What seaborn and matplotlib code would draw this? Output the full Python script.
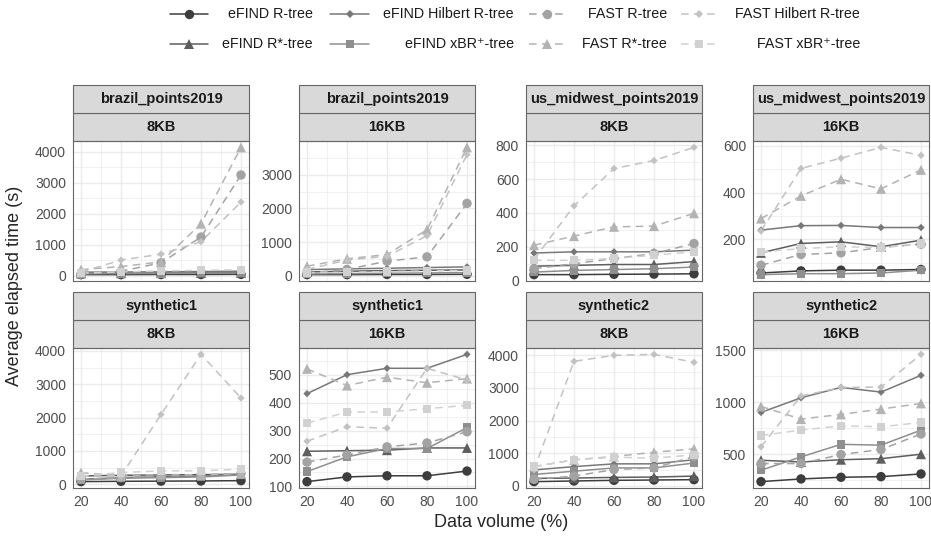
import pandas as pd
import seaborn as sns
import matplotlib.pyplot as plt
from matplotlib.lines import Line2D
from matplotlib.patches import Rectangle

# x axis: data volume (%)
volume = [20, 40, 60, 80, 100]

methods = ["eFIND R-tree", "eFIND R*-tree", "eFIND Hilbert R-tree", "eFIND xBR⁺-tree",
           "FAST R-tree", "FAST R*-tree", "FAST Hilbert R-tree", "FAST xBR⁺-tree"]

datasets = ["brazil_points2019", "brazil_points2019", "us_midwest_points2019", "us_midwest_points2019",
            "synthetic1", "synthetic1", "synthetic2", "synthetic2"]
page_sizes = ["8KB", "16KB", "8KB", "16KB", "8KB", "16KB", "8KB", "16KB"]

# average elapsed time (s), one row per method (same order as `methods`)
brazil_8kb = [
    [40, 40, 45, 45, 50],
    [80, 85, 90, 95, 100],
    [120, 125, 130, 140, 150],
    [70, 75, 80, 85, 90],
    [60, 150, 420, 1250, 3250],
    [200, 300, 450, 1680, 4140],
    [120, 510, 700, 1100, 2380],
    [90, 130, 160, 180, 200],
]
brazil_16kb = [
    [40, 40, 45, 45, 50],
    [120, 140, 160, 170, 180],
    [190, 210, 230, 250, 270],
    [60, 70, 80, 90, 100],
    [80, 195, 440, 567, 2150],
    [290, 508, 635, 1370, 3810],
    [195, 470, 586, 1193, 3597],
    [100, 110, 130, 150, 160],
]
midwest_8kb = [
    [35, 35, 37, 38, 40],
    [85, 90, 95, 95, 112],
    [163, 170, 170, 170, 180],
    [50, 60, 65, 70, 80],
    [70, 100, 130, 160, 219],
    [209, 263, 318, 322, 398],
    [125, 442, 663, 710, 788],
    [120, 120, 130, 150, 170],
]
midwest_16kb = [
    [57, 66, 69, 69, 72],
    [143, 183, 190, 169, 197],
    [240, 259, 260, 251, 251],
    [50, 54, 54, 57, 69],
    [90, 136, 143, 166, 180],
    [289, 386, 457, 416, 497],
    [236, 503, 547, 593, 559],
    [147, 161, 169, 166, 183],
]
synthetic1_8kb = [
    [80, 90, 95, 100, 110],
    [250, 270, 280, 290, 300],
    [150, 200, 230, 250, 300],
    [130, 180, 200, 220, 280],
    [150, 200, 250, 280, 330],
    [350, 250, 300, 280, 320],
    [250, 250, 2095, 3897, 2588],
    [250, 352, 403, 403, 453],
]
synthetic1_16kb = [
    [117, 134, 138, 138, 155],
    [226, 228, 230, 238, 238],
    [433, 501, 524, 524, 574],
    [153, 206, 236, 236, 311],
    [187, 213, 242, 256, 296],
    [522, 462, 492, 472, 487],
    [262, 314, 309, 524, 482],
    [327, 367, 367, 379, 391],
]
synthetic2_8kb = [
    [130, 150, 170, 180, 190],
    [230, 240, 260, 270, 300],
    [490, 590, 675, 675, 800],
    [350, 450, 550, 550, 700],
    [200, 300, 500, 550, 900],
    [590, 800, 900, 1030, 1135],
    [490, 3816, 4000, 4030, 3785],
    [590, 800, 880, 850, 950],
]
synthetic2_16kb = [
    [236, 262, 278, 284, 310],
    [442, 425, 447, 457, 500],
    [902, 1043, 1143, 1098, 1259],
    [346, 474, 595, 587, 732],
    [410, 410, 497, 545, 695],
    [960, 838, 883, 934, 989],
    [571, 1060, 1143, 1146, 1461],
    [680, 732, 773, 764, 805],
]

panel_values = [brazil_8kb, brazil_16kb, midwest_8kb, midwest_16kb,
                synthetic1_8kb, synthetic1_16kb, synthetic2_8kb, synthetic2_16kb]
y_breaks = [
    [0, 1000, 2000, 3000, 4000],
    [0, 1000, 2000, 3000],
    [0, 200, 400, 600, 800],
    [200, 400, 600],
    [0, 1000, 2000, 3000, 4000],
    [100, 200, 300, 400, 500],
    [0, 1000, 2000, 3000, 4000],
    [500, 1000, 1500],
]

# long table
rows = []
for p, vals in enumerate(panel_values):
    for m, series in zip(methods, vals):
        for x, y in zip(volume, series):
            rows.append({"panel": p, "method": m, "volume": x, "time": y})
df = pd.DataFrame(rows)

# styles
greys = ["#3d3d3d", "#5e5e5e", "#787878", "#8f8f8f", "#a3a3a3", "#b3b3b3", "#c2c2c2", "#d1d1d1"]
palette = dict(zip(methods, greys))
dashes = {m: ("" if m.startswith("eFIND") else (5, 3.5)) for m in methods}
shape = {"R-tree": "o", "R*-tree": "^", "Hilbert R-tree": "D", "xBR⁺-tree": "s"}
msize = {"o": 46, "^": 52, "D": 14, "s": 36}
markers = {m: shape[m.split(" ", 1)[1]] for m in methods}
sizes = {m: msize[markers[m]] for m in methods}
border = "#666666"

sns.set_theme(style="white")
plt.rcParams["font.family"] = ["Liberation Sans", "DejaVu Sans"]

W, H = 931, 536
fig = plt.figure(figsize=(W / 100, H / 100), dpi=100)

lefts = [73, 299, 526, 753]
bottoms = [281, 488]
pw, ph = 176, 140

for p in range(8):
    r, c = divmod(p, 4)
    ax = fig.add_axes([lefts[c] / W, 1 - bottoms[r] / H, pw / W, ph / H])
    sub = df[df["panel"] == p]
    sns.lineplot(data=sub, x="volume", y="time", hue="method", style="method",
                 hue_order=methods, style_order=methods, palette=palette,
                 dashes=dashes, markers=False, linewidth=1.1, sort=False,
                 legend=False, ax=ax)
    sns.scatterplot(data=sub, x="volume", y="time", hue="method", style="method",
                    size="method", hue_order=methods, style_order=methods,
                    size_order=methods, palette=palette, markers=markers,
                    sizes=sizes, linewidth=0, legend=False, ax=ax, zorder=3)

    lo, hi = sub["time"].min(), sub["time"].max()
    pad = 0.05 * (hi - lo)
    yb = y_breaks[p]
    step = yb[1] - yb[0]
    ax.set_yticks(yb)
    ax.set_yticks([yb[0] - step / 2] + [b + step / 2 for b in yb], minor=True)
    ax.set_xticks(volume)
    ax.set_xticks([10, 30, 50, 70, 90, 110], minor=True)
    ax.set_xlim(16, 104)
    ax.set_ylim(lo - pad, hi + pad)
    ax.grid(which="major", color="#ebebeb", linewidth=1.0)
    ax.grid(which="minor", color="#ebebeb", linewidth=0.5)
    ax.set_axisbelow(True)
    ax.tick_params(which="major", length=3, width=0.8, color=border,
                   labelcolor="#4d4d4d", labelsize=10, pad=2)
    ax.tick_params(which="minor", length=0)
    ax.tick_params(axis="x", labelbottom=(r == 1))
    for s in ax.spines.values():
        s.set_color(border)
        s.set_linewidth(0.8)
    ax.set_xlabel("")
    ax.set_ylabel("")

    # two strips: dataset on top, page size below
    for k, label in enumerate([page_sizes[p], datasets[p]]):
        y0 = 1 + k * 0.2
        ax.add_patch(Rectangle((0, y0), 1, 0.2, transform=ax.transAxes, clip_on=False,
                               facecolor="#d9d9d9", edgecolor=border, linewidth=0.8))
        ax.text(0.5, y0 + 0.1, label, transform=ax.transAxes, ha="center", va="center",
                fontsize=10.5, fontweight="bold", color="#1a1a1a")

fig.text(0.538, 0.026, "Data volume (%)", ha="center", va="center", fontsize=13)
fig.text(0.016, 0.466, "Average elapsed time (s)", ha="center", va="center",
         rotation=90, fontsize=13)

# legend (4 columns x 2 rows, labels right-aligned)
key_cols = [(170, 208, 313), (330, 369, 514), (529, 564, 667), (681, 717, 860)]
key_rows = [14, 44]
for i, m in enumerate(methods):
    c, r = divmod(i, 2)
    x0, x1, xt = key_cols[c]
    y = 1 - key_rows[r] / H
    ls = "-" if m.startswith("eFIND") else (0, (5, 3.5))
    fig.add_artist(Line2D([x0 / W, x1 / W], [y, y], color=palette[m], linewidth=1.1,
                          linestyle=ls, transform=fig.transFigure))
    fig.add_artist(Line2D([(x0 + x1) / 2 / W], [y], color=palette[m], marker=markers[m],
                          markersize=sizes[m] ** 0.5, linestyle="none",
                          markeredgewidth=0, transform=fig.transFigure))
    fig.text(xt / W, y, m, ha="right", va="center", fontsize=10.3, color="#1a1a1a")

fig.savefig("out.png", dpi=100)
